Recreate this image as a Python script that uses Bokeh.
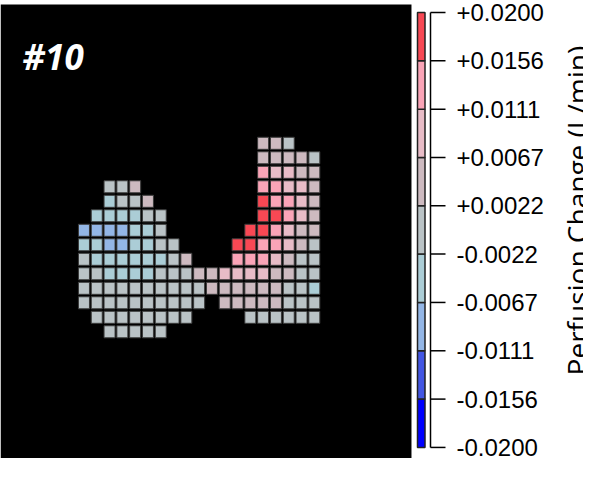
import math
from bokeh.plotting import figure
from bokeh.models import (ColumnDataSource, LinearColorMapper, Range1d, Label, BoxAnnotation)
from bokeh.core.properties import value
from bokeh.transform import transform
from bokeh.embed import file_html
from bokeh.resources import INLINE

# --- data: perfusion change per cell (row by row, columns 0..18, None = no cell) ---
N = None
perfusion = [
    [N, N, N, N, N, N, N, N, N, N, N, N, N, N, 0.0045, 0.0040, 0.0000, N, N],
    [N, N, N, N, N, N, N, N, N, N, N, N, N, N, 0.0045, 0.0040, 0.0050, 0.0040, -0.0005],
    [N, N, N, N, N, N, N, N, N, N, N, N, N, N, 0.0125, 0.0095, 0.0090, 0.0050, 0.0045],
    [N, N, 0.0000, 0.0000, 0.0040, N, N, N, N, N, N, N, N, N, 0.0130, 0.0125, 0.0095, 0.0090, 0.0045],
    [N, N, -0.0040, 0.0000, 0.0000, 0.0040, N, N, N, N, N, N, N, N, 0.0175, 0.0130, 0.0125, 0.0090, 0.0045],
    [N, -0.0045, -0.0040, -0.0040, -0.0035, 0.0000, 0.0000, N, N, N, N, N, N, N, 0.0175, 0.0170, 0.0130, 0.0090, 0.0045],
    [-0.0090, -0.0090, -0.0095, -0.0085, -0.0040, -0.0035, 0.0000, N, N, N, N, N, N, 0.0175, 0.0170, 0.0130, 0.0090, 0.0045, 0.0040],
    [-0.0040, -0.0040, -0.0090, -0.0090, -0.0040, -0.0035, 0.0000, 0.0000, N, N, N, N, 0.0175, 0.0170, 0.0125, 0.0130, 0.0090, 0.0040, 0.0000],
    [0.0000, -0.0040, -0.0035, -0.0035, -0.0040, -0.0040, -0.0030, 0.0000, 0.0045, N, N, N, 0.0130, 0.0130, 0.0125, 0.0090, 0.0045, 0.0000, -0.0005],
    [0.0000, 0.0000, -0.0035, -0.0040, -0.0035, -0.0035, 0.0000, 0.0000, 0.0000, 0.0040, 0.0045, 0.0085, 0.0090, 0.0085, 0.0085, 0.0045, 0.0040, 0.0000, 0.0000],
    [0.0000, 0.0000, 0.0000, 0.0000, 0.0000, 0.0000, 0.0000, 0.0000, 0.0000, -0.0005, 0.0040, 0.0040, 0.0045, 0.0040, 0.0045, 0.0040, 0.0000, 0.0000, -0.0035],
    [0.0000, 0.0000, 0.0000, 0.0000, 0.0000, 0.0000, 0.0000, 0.0000, 0.0000, 0.0000, N, 0.0040, 0.0040, 0.0045, 0.0040, 0.0040, 0.0000, -0.0005, 0.0000],
    [N, 0.0000, 0.0000, 0.0000, 0.0000, 0.0000, 0.0000, 0.0000, 0.0000, N, N, N, N, 0.0000, 0.0000, 0.0000, 0.0000, 0.0000, 0.0000],
    [N, N, 0.0000, 0.0000, 0.0000, 0.0000, 0.0000, N, N, N, N, N, N, N, N, N, N, N, N],
]

tick_labels = ["-0.0200", "-0.0156", "-0.0111", "-0.0067", "-0.0022",
               "+0.0022", "+0.0067", "+0.0111", "+0.0156", "+0.0200"]
palette = ["#0000ff", "#4356e3", "#93b6e6", "#abcdd6", "#bac3c6",
           "#cdbac0", "#e8bcc7", "#faa4b7", "#f84854"]
vmin, vmax = -0.02, 0.02
title_text = "#10"
cbar_title = "Perfusion Change (L/min)"

W, H = 583, 458

# --- build cell table ---
xs, ys, vals = [], [], []
for r, line in enumerate(perfusion):
    for c, v in enumerate(line):
        if v is not None:
            xs.append(c)
            ys.append(-r)
            vals.append(v)
src = ColumnDataSource(dict(x=xs, y=ys, v=vals))
mapper = LinearColorMapper(palette=palette, low=vmin, high=vmax)

p = figure(width=W, height=H, output_backend="svg", toolbar_location=None,
           x_range=Range1d(-6.52, 39.03), y_range=Range1d(-21.738, 9.848),
           x_axis_location=None, y_axis_location=None,
           min_border_left=0, min_border_right=0, min_border_top=0, min_border_bottom=0)
p.background_fill_color = "white"
p.border_fill_color = "white"
p.outline_line_color = None
p.grid.visible = False

# extra ranges for the colour bar: x in page-like pixels, y in bin units
p.extra_x_ranges = {"cbx": Range1d(8, 8 + W)}
p.extra_y_ranges = {"cb": Range1d(-0.229, 9.248)}

# black image background of the heat map
p.add_layout(BoxAnnotation(right=25.59, top=9.572, fill_color="black", fill_alpha=1.0,
                           line_color=None, level="underlay"))

p.rect(x="x", y="y", width=0.86, height=0.83, source=src,
       fill_color=transform("v", mapper), line_color="#3a3a3a", line_width=1)
p.add_layout(Label(x=22, y=402, x_units="screen", y_units="screen", text=title_text,
                   text_color="white", text_font="Open Sans", text_font_size="35px",
                   text_font_style="bold italic", text_baseline="alphabetic"))

# --- colour bar ---
nb = len(palette)
ticks = list(range(nb + 1))
cb_src = ColumnDataSource(dict(bottom=list(range(nb)), top=list(range(1, nb + 1)), color=palette))
p.quad(left=425, right=432.5, bottom="bottom", top="top", fill_color="color",
       line_color="#222222", line_width=1.5, source=cb_src,
       x_range_name="cbx", y_range_name="cb")
tk_src = ColumnDataSource(dict(y=ticks, label=tick_labels))
# axis line and ticks of the colour bar scale
p.segment(x0=438, y0=0, x1=438, y1=nb, line_color="black", line_width=1.5,
          x_range_name="cbx", y_range_name="cb")
p.segment(x0=438, y0="y", x1=453, y1="y", source=tk_src, line_color="black", line_width=1.5,
          x_range_name="cbx", y_range_name="cb")
p.text(x=464, y="y", text="label", source=tk_src, text_baseline="middle", text_align="left",
       text_font=value("Liberation Sans"), text_font_size="24px", text_color="black",
       x_range_name="cbx", y_range_name="cb")
# colour bar title, reading bottom to top
p.text(x=[584], y=[4.9], text=[cbar_title], angle=math.pi / 2,
       text_align="center", text_baseline="alphabetic",
       text_font=value("Open Sans"), text_font_size="28px", text_color="black",
       x_range_name="cbx", y_range_name="cb")

open("out.html", "w").write(file_html(p, INLINE))
